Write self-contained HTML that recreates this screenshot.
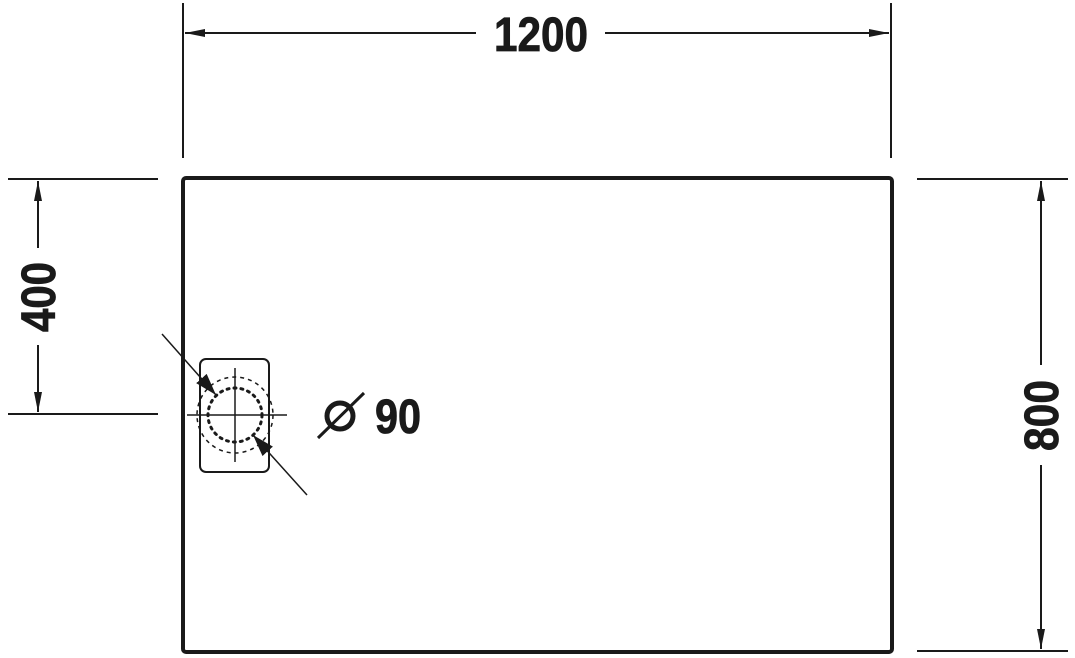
<!DOCTYPE html>
<html><head><style>html,body{margin:0;padding:0;background:#fff}svg{display:block}</style></head><body>
<svg width="1075" height="658" viewBox="0 0 1075 658" xmlns="http://www.w3.org/2000/svg">
<defs>
<marker id="a" viewBox="0 0 20 10" refX="20" refY="5" markerWidth="20" markerHeight="10" markerUnits="userSpaceOnUse" orient="auto"><path d="M0,1 L20,5 L0,9 z" fill="#1a1a1a"/></marker>
<marker id="b" viewBox="0 0 22 14" refX="22" refY="7" markerWidth="22" markerHeight="14" markerUnits="userSpaceOnUse" orient="auto"><path d="M0,0 L22,7 L0,14 z" fill="#1a1a1a"/></marker>
</defs>
<g stroke="#1a1a1a" fill="none">
<rect x="183" y="178" width="709" height="474" rx="3" stroke-width="4"/>
<line x1="183" y1="3" x2="183" y2="158" stroke-width="2"/>
<line x1="891" y1="3" x2="891" y2="158" stroke-width="2"/>
<line x1="8" y1="179" x2="158" y2="179" stroke-width="2"/>
<line x1="8" y1="414" x2="158" y2="414" stroke-width="2"/>
<line x1="917" y1="179" x2="1068" y2="179" stroke-width="2"/>
<line x1="917" y1="651" x2="1068" y2="651" stroke-width="2"/>
<line x1="476" y1="33" x2="185" y2="33" stroke-width="2" marker-end="url(#a)"/>
<line x1="605" y1="33" x2="889" y2="33" stroke-width="2" marker-end="url(#a)"/>
<line x1="38" y1="248" x2="38" y2="181" stroke-width="2" marker-end="url(#a)"/>
<line x1="38" y1="345" x2="38" y2="412" stroke-width="2" marker-end="url(#a)"/>
<line x1="1041" y1="365" x2="1041" y2="181" stroke-width="2" marker-end="url(#a)"/>
<line x1="1041" y1="465" x2="1041" y2="649" stroke-width="2" marker-end="url(#a)"/>
<rect x="200" y="359" width="69" height="113" rx="6" stroke-width="2"/>
<circle cx="235" cy="415" r="38" stroke-width="1.5" stroke-dasharray="4,4"/>
<circle cx="235" cy="415" r="27" stroke-width="3" stroke-dasharray="2,5" stroke-linecap="round"/>
<line x1="187" y1="415" x2="287" y2="415" stroke-width="1.5"/>
<line x1="235" y1="368" x2="235" y2="462" stroke-width="1.5"/>
<line x1="162" y1="334" x2="216" y2="395" stroke-width="1.5" marker-end="url(#b)"/>
<line x1="307" y1="495" x2="253" y2="435" stroke-width="1.5" marker-end="url(#b)"/>
<circle cx="340" cy="416" r="13" stroke-width="5"/>
<line x1="318" y1="438" x2="364" y2="393" stroke-width="3"/>
</g>
<g fill="#1a1a1a" stroke="#1a1a1a" stroke-width="0.8" font-family="Liberation Sans, sans-serif" font-weight="bold" font-size="48">
<text x="494" y="51" textLength="94" lengthAdjust="spacingAndGlyphs">1200</text>
<text x="375" y="433" textLength="46" lengthAdjust="spacingAndGlyphs">90</text>
<text transform="translate(55,332) rotate(-90)" textLength="70" lengthAdjust="spacingAndGlyphs">400</text>
<text transform="translate(1058,451) rotate(-90)" textLength="71" lengthAdjust="spacingAndGlyphs">800</text>
</g>
</svg>
</body></html>
